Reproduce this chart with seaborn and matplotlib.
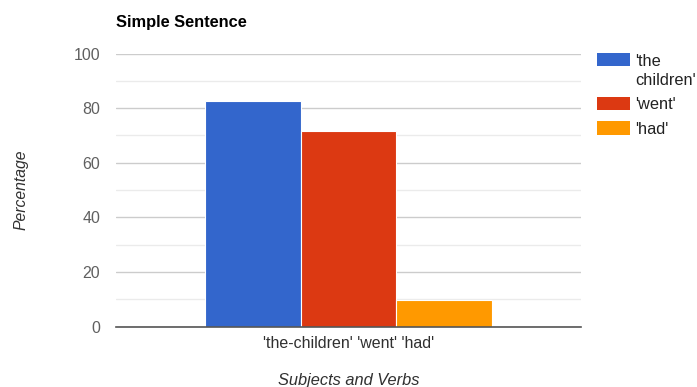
import matplotlib
matplotlib.use("Agg")
import matplotlib.pyplot as plt
import seaborn as sns
import pandas as pd
from matplotlib.patches import Patch, Rectangle
from matplotlib.legend_handler import HandlerPatch

categories = ["'the-children' 'went' 'had'"]
series = ["'the children'", "'went'", "'had'"]
values = [82.6, 71.8, 9.7]
colors = ["#3366cc", "#dc3912", "#ff9900"]
yticks = [0, 20, 40, 60, 80, 100]
minor_yticks = [10, 30, 50, 70, 90]
title = "Simple Sentence"
xlabel = "Subjects and Verbs"
ylabel = "Percentage"

sns.set_theme(style="white")
plt.rcParams['font.family'] = ['Liberation Sans', 'DejaVu Sans']

W, H = 697, 387
FS = 11.8
TFS = 11.5
LS = 1.36
fig = plt.figure(figsize=(W / 100, H / 100), dpi=100)
ax = fig.add_axes([116 / W, 1 - 326.7 / H, 465 / W, 273.2 / H])

df = pd.DataFrame({
    "Group": categories * len(series),
    "Series": series,
    "Percentage": values,
})
sns.barplot(data=df, x="Group", y="Percentage", hue="Series", hue_order=series,
            palette=colors, saturation=1, width=0.8, edgecolor="white",
            linewidth=0.8, legend=False, ax=ax)

ax.set_xlim(-0.648, 0.648)
ax.set_ylim(0, 100)
ax.set_yticks(yticks)
ax.set_yticks(minor_yticks, minor=True)
ax.set_axisbelow(True)
ax.grid(which="major", axis="y", color="#cccccc", linewidth=1)
ax.grid(which="minor", axis="y", color="#ebebeb", linewidth=1)
ax.grid(which="major", axis="x", visible=False)
for s in ["top", "right", "left"]:
    ax.spines[s].set_visible(False)
ax.spines["bottom"].set_color("#555555")
ax.spines["bottom"].set_linewidth(1.2)

ax.tick_params(axis="y", which="both", length=0, pad=11.5, labelsize=TFS, labelcolor="#606060")
ax.tick_params(axis="x", length=0, pad=6.5, labelsize=TFS, labelcolor="#303030")

ax.set_xlabel(xlabel, fontsize=FS, style="italic", color="#303030", va="baseline")
ax.xaxis.set_label_coords(0.5, (326.7 - 384.5) / 273.2)
ax.set_ylabel(ylabel, fontsize=11.3, style="italic", color="#303030", va="center")
ax.yaxis.set_label_coords((21.5 - 116) / 465, 0.5)

ax.set_title(title, loc="left", fontsize=FS, fontweight="bold", color="#000000", pad=19.3)

labels = [s.replace(" ", "\n") for s in series]


def top_aligned(nlines):
    # shift the swatch so it sits beside the first line of a wrapped label
    dy = (nlines - 1) * FS * LS / 2

    def f(legend, orig_handle, xdescent, ydescent, width, height, fontsize):
        return Rectangle((-xdescent, -ydescent + dy), width, height)
    return HandlerPatch(patch_func=f)


handles = [Patch(facecolor=c, edgecolor="none") for c in colors]
handler_map = {h: top_aligned(lab.count("\n") + 1) for h, lab in zip(handles, labels)}
LPX = FS * 100 / 72
leg = fig.legend(handles, labels, loc="upper left",
                 bbox_to_anchor=(597 / W, 1 - 53.5 / H), bbox_transform=fig.transFigure,
                 frameon=False, borderpad=0, borderaxespad=0,
                 handlelength=33 / LPX, handleheight=14 / LPX, handletextpad=5.5 / LPX,
                 labelspacing=0.56, fontsize=FS, handler_map=handler_map)
for t in leg.get_texts():
    t.set_color("#222222")
    t.set_linespacing(LS)

fig.savefig("out.png", dpi=100)
